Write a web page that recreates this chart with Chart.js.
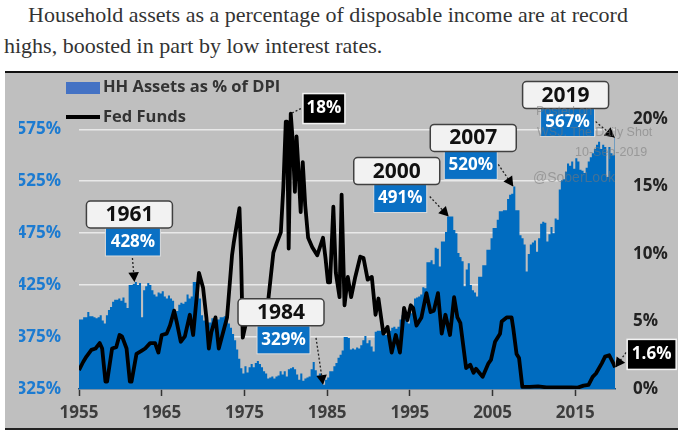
<!DOCTYPE html>
<html>
<head>
<meta charset="utf-8">
<script src="https://cdn.jsdelivr.net/npm/chart.js@4/dist/chart.umd.min.js"></script>
<style>
body { margin: 0; background: #fff; }
#intro { position: absolute; left: 4px; top: -1px; width: 640px; font: 22px/31px "Liberation Serif", serif; color: #333; text-indent: 24px; }
#panel { position: absolute; left: 5px; top: 71px; width: 673px; height: 355px; background: #bfbfbf; border-top: 2px solid #111; border-bottom: 2px solid #222; }
#grafica { position: absolute; left: 0; top: 0; }
</style>
</head>
<body>
<div id="intro">Household assets as a percentage of disposable income are at record highs, boosted in part by low interest rates.</div>
<div id="panel"></div>
<canvas id="grafica" width="685" height="435"></canvas>
<script>
// values
var assetYears = [1955,1955.5,1956,1956.25,1956.75,1957,1957.25,1957.5,1957.75,1958,1958.25,1958.5,1958.75,1959,1959.25,1959.75,1960,1960.25,1960.5,1960.75,1961,1961.5,1961.75,1962,1962.25,1962.5,1962.75,1963,1963.25,1963.5,1963.75,1964,1964.25,1964.5,1964.75,1965,1965.25,1965.5,1965.75,1966,1966.25,1966.5,1966.75,1967,1967.25,1967.5,1967.75,1968,1968.25,1968.5,1968.75,1969,1969.25,1969.5,1969.75,1970,1970.5,1971,1971.5,1972,1972.5,1973,1973.25,1973.5,1973.75,1974,1974.25,1974.5,1974.75,1975,1975.25,1975.5,1975.75,1976,1976.25,1976.5,1976.75,1977,1977.25,1977.5,1977.75,1978,1978.25,1978.5,1978.75,1979,1979.25,1979.5,1979.75,1980,1980.25,1980.5,1980.75,1981,1981.25,1981.5,1981.75,1982,1982.25,1982.5,1982.75,1983,1983.25,1983.5,1983.75,1984,1984.25,1984.5,1984.75,1985,1985.25,1985.5,1985.75,1986,1986.25,1986.5,1986.75,1987,1987.25,1987.5,1987.75,1988,1988.25,1988.5,1988.75,1989,1989.25,1989.5,1989.75,1990,1990.25,1990.5,1990.75,1991,1991.5,1991.75,1992,1992.25,1992.75,1993,1993.25,1993.5,1993.75,1994,1994.25,1994.5,1994.75,1995,1995.25,1995.5,1995.75,1996,1996.25,1996.5,1996.75,1997,1997.25,1997.5,1997.75,1998,1998.25,1998.5,1998.75,1999,1999.25,1999.5,2000.25,2000.5,2000.75,2001,2001.25,2001.5,2001.75,2002,2002.25,2002.5,2002.75,2003,2003.25,2003.75,2004.25,2004.75,2005,2005.5,2005.75,2006.25,2006.75,2007,2007.25,2007.5,2007.75,2008.25,2008.5,2008.75,2009,2009.25,2009.5,2009.75,2010,2010.25,2010.5,2010.75,2011,2011.25,2011.5,2011.75,2012,2012.25,2012.5,2012.75,2013,2013.25,2013.5,2013.75,2014,2014.25,2014.5,2014.75,2015,2015.25,2015.5,2015.75,2016,2016.25,2016.5,2016.75,2017,2017.25,2017.5,2017.75,2018,2018.25,2018.5,2018.75,2019,2019.25,2019.5,2019.75,2019.8];
var assetValues = [392,394,399,395,394,393,394,396,391,388,396,401,404,409,411,412,410,413,408,403,425,426,428,425,427,394,420,424,427,425,420,416,414,418,417,419,414,412,415,412,410,394,400,406,408,407,409,416,412,414,428,428,425,412,396,391,389,393,392,394,395,388,384,378,372,363,354,345,340,347,341,346,349,346,350,352,349,346,342,340,335,336,337,335,337,338,342,339,342,337,344,345,346,344,339,334,340,333,335,336,337,344,351,343,338,340,333,329,334,336,342,342,347,350,355,358,362,375,375,374,363,364,363,365,364,367,372,376,369,372,366,361,380,381,382,378,377,381,384,385,383,385,392,396,398,393,388,398,405,412,413,414,416,423,422,447,447,449,445,461,460,443,467,467,476,491,478,475,456,452,448,424,440,446,425,420,418,414,433,444,459,470,480,488,496,497,508,512,513,520,497,473,470,464,438,455,464,466,468,457,470,484,486,485,467,474,481,475,489,488,517,526,527,534,542,540,544,537,547,544,536,535,533,538,544,548,552,556,560,563,556,560,558,529,558,552,550,567,567];

var fedYears = [1955,1955.5,1955.9,1956.5,1957,1957.5,1957.8,1958.2,1958.4,1959,1959.5,1959.9,1960.2,1960.75,1961.15,1961.35,1961.95,1962.5,1963,1963.6,1964.2,1964.6,1965,1965.6,1966,1966.5,1966.8,1967.3,1967.8,1968.4,1968.8,1969.5,1970,1970.4,1970.7,1971,1971.5,1971.9,1972.9,1973.5,1973.7,1974.4,1974.6,1974.8,1975.3,1976.5,1977.5,1977.9,1978.5,1978.9,1979.4,1979.7,1980,1980.15,1980.35,1980.6,1980.8,1981.1,1981.3,1981.55,1981.8,1982.05,1982.35,1982.7,1983.2,1983.8,1984.5,1984.8,1985.1,1985.35,1985.75,1986.05,1986.5,1986.75,1987.1,1987.5,1987.9,1988.4,1989,1989.4,1989.9,1990.4,1990.85,1991.2,1991.8,1992.3,1992.8,1993.3,1993.8,1994.3,1994.7,1995.1,1995.4,1995.8,1996.4,1997,1997.5,1997.9,1998.4,1998.85,1999.3,1999.85,2000.35,2000.75,2001.1,2001.8,2002.3,2002.7,2003,2003.8,2004.5,2004.8,2005.3,2005.9,2006.1,2006.7,2007.3,2007.5,2007.9,2008.2,2008.6,2009.5,2010.5,2011.5,2013,2014.5,2015.3,2016,2016.6,2017.1,2017.5,2018.2,2018.6,2019.1,2019.6,2019.8];
var fedValues = [1.4,2,2.4,2.9,3,3.4,3,0.55,0.55,3,3.1,4,3.9,3,0.55,0.55,2.6,2.8,3,3.4,3.4,2.7,4,4.1,4.7,5.8,5,3.5,3.9,5.5,4,8.6,7.5,5.3,3,4.2,5.3,3,5.3,9.9,10.8,13.4,9.6,3.8,5.2,5,5.4,6.7,10.1,10.8,11.6,14.9,19.8,19.8,10.4,20.4,18.7,14.6,18.7,16.1,13.1,16.8,13.6,11.2,10.5,9.9,11.2,9.7,7.9,7.9,13.5,8.6,6.8,14.4,6.2,8.3,6.8,8.3,9.8,9.7,8.1,8.3,5.5,6.7,4.1,4.6,2.7,4,2.7,6,5.1,6.2,6,4.7,5.3,7.1,5.7,5.8,7.1,4.1,5.5,4,6.8,5.3,4.9,1.55,1.8,1.2,1.5,0.9,1.9,2.15,3.5,4.1,5,5.3,5.3,4.5,2.6,2.3,0.15,0.15,0.2,0.12,0.12,0.12,0.1,0.25,0.3,0.9,1.15,1.9,2.4,2.5,1.9,1.6];

var xTicks = [1955, 1965, 1975, 1985, 1995, 2005, 2015];
var assetTicks = [325, 375, 425, 475, 525, 575];
var fedTicks = [0, 5, 10, 15, 20];
var assetCalloutYears = [1961.7, 1984.5, 1999.7, 2007.5, 2019.75];
var assetCalloutValues = [428, 329, 491, 520, 567];
var assetCalloutLabels = ["1961", "1984", "2000", "2007", "2019"];
var fedCalloutYears = [1980.5, 2019.7];
var fedCalloutTips = [20.4, 1.6];
var fedCalloutLabels = ["18%", "1.6%"];

var fuente = '"Open Sans", sans-serif';

function zip(xs, ys) {
	return xs.map(function (x, i) { return { x: x, y: ys[i] }; });
}

function fijarTicks(lista) {
	return function (s) { s.ticks = lista.map(function (v) { return { value: v }; }); };
}

function flecha(c, x0, y0, x1, y1, head) {
	c.save();
	c.strokeStyle = "#222";
	c.fillStyle = "#000";
	c.lineWidth = 1.3;
	c.setLineDash([2, 2]);
	var a = Math.atan2(y1 - y0, x1 - x0);
	c.beginPath();
	c.moveTo(x0, y0);
	c.lineTo(x1, y1);
	c.stroke();
	c.setLineDash([]);
	c.beginPath();
	c.moveTo(x1, y1);
	c.lineTo(x1 - head * Math.cos(a - 0.5), y1 - head * Math.sin(a - 0.5));
	c.lineTo(x1 - head * Math.cos(a + 0.5), y1 - head * Math.sin(a + 0.5));
	c.fill();
	c.restore();
}

// box offsets from each tip, in pixels
var cajas = [
	{ wx: -48, wy: -81, bx: -29, bw: 55, fromX: -2, fromY: -24 },
	{ wx: -85, wy: -86, bx: -66, bw: 53, fromX: -7, fromY: -47 },
	{ wx: -95, wy: -59, bx: -75, bw: 53, fromX: -19, fromY: -20 },
	{ wx: -83, wy: -62, bx: -69, bw: 53, fromX: -15, fromY: -22 },
	{ wx: -92, wy: -56, bx: -74, bw: 54, fromX: -19, fromY: -16 },
];

var anotaciones = {
	id: "anotaciones",
	afterDatasetsDraw: function (chart) {
		var c = chart.ctx, x = chart.scales.x, y = chart.scales.y, y2 = chart.scales.y2;
		c.save();
		c.textBaseline = "middle";

		// legend
		c.textAlign = "left";
		c.fillStyle = "#4472c4";
		c.fillRect(66, 82, 34, 12);
		c.fillStyle = "#000";
		c.fillRect(66, 115, 34, 4);
		c.fillStyle = "#333";
		c.font = "bold 16.5px " + fuente;
		c.fillText(chart.data.datasets[0].label, 103, 87);
		c.fillText(chart.data.datasets[1].label, 103, 117);

		// asset callouts
		c.textAlign = "center";
		assetCalloutYears.forEach(function (yr, i) {
			var tx = x.getPixelForValue(yr), ty = y.getPixelForValue(assetCalloutValues[i]), k = cajas[i];
			var wy = ty + k.wy;
			flecha(c, tx + k.fromX, ty + k.fromY, tx, ty, 11);
			c.fillStyle = "#0a70c4";
			c.strokeStyle = "#dcdcdc";
			c.lineWidth = 1;
			c.fillRect(tx + k.bx, wy + 27, k.bw, 28);
			c.strokeRect(tx + k.bx, wy + 27, k.bw, 28);
			c.fillStyle = "#fff";
			c.font = "bold 17px " + fuente;
			c.fillText(assetCalloutValues[i] + "%", tx + k.bx + k.bw / 2, wy + 41);
			c.beginPath();
			c.roundRect(tx + k.wx, wy, 86, 27, 4);
			c.fillStyle = "#f2f2f2";
			c.fill();
			c.strokeStyle = "#404040";
			c.lineWidth = 1.5;
			c.stroke();
			c.fillStyle = "#111";
			c.font = "bold 21px " + fuente;
			c.fillText(assetCalloutLabels[i], tx + k.wx + 43, wy + 14);
		});

		// fed funds callouts
		var negras = [{ dx: 13, dy: -20, w: 42, h: 30, from: [11, -5], head: 0 }, { dx: 13, dy: -28, w: 49, h: 30, from: [12, -15], head: 11 }];
		fedCalloutYears.forEach(function (yr, i) {
			var tx = x.getPixelForValue(yr), ty = y2.getPixelForValue(fedCalloutTips[i]), k = negras[i];
			flecha(c, tx + k.from[0], ty + k.from[1], tx + 1, ty, k.head);
			c.fillStyle = "#000";
			c.strokeStyle = "#f4f4f4";
			c.lineWidth = 1.5;
			c.fillRect(tx + k.dx, ty + k.dy, k.w, k.h);
			c.strokeRect(tx + k.dx, ty + k.dy, k.w, k.h);
			c.fillStyle = "#fff";
			c.font = "bold 17px " + fuente;
			c.fillText(fedCalloutLabels[i], tx + k.dx + k.w / 2, ty + k.dy + k.h / 2);
		});

		// watermark
		c.textAlign = "left";
		c.fillStyle = "rgba(120,120,120,0.55)";
		c.font = "12.5px " + '"Liberation Sans", sans-serif';
		c.fillText("Posted on", 536, 112);
		c.fillText("WSJ. The Daily Shot", 537, 133);
		c.fillText("10-Sep-2019", 575, 153);
		c.font = "14px " + '"Liberation Sans", sans-serif';
		c.fillText("@SoberLook", 533, 178);
		c.restore();
	},
};

var grafica = new Chart(document.getElementById("grafica"), {
	type: "line",
	plugins: [anotaciones],
	data: {
		datasets: [
			{
				label: "HH Assets as % of DPI",
				data: zip(assetYears, assetValues),
				yAxisID: "y",
				stepped: true,
				fill: "start",
				backgroundColor: "#006cc0",
				borderWidth: 0,
				pointRadius: 0,
				order: 2,
			},
			{
				label: "Fed Funds",
				data: zip(fedYears, fedValues),
				yAxisID: "y2",
				borderColor: "#000",
				borderWidth: 3.8,
				borderJoinStyle: "round",
				pointRadius: 0,
				fill: false,
				order: 1,
			},
		],
	},
	options: {
		responsive: false,
		animation: false,
		devicePixelRatio: 1,
		layout: { padding: { left: 19, right: 5, top: 103.3, bottom: 0 } },
		plugins: { legend: { display: false }, tooltip: { enabled: false } },
		scales: {
			x: {
				type: "linear",
				min: 1955,
				max: 2019.8,
				afterBuildTicks: fijarTicks(xTicks),
				afterFit: function (s) { s.height = 46; },
				border: { color: "#1f4e79", width: 1.5 },
				grid: { drawOnChartArea: false, drawTicks: true, tickLength: 7, tickColor: "#333", tickWidth: 1.5 },
				ticks: {
					maxRotation: 0,
					autoSkip: false,
					padding: 7,
					color: "#3d3d3d",
					font: { family: fuente, size: 17, weight: "bold" },
					callback: function (v) { return String(v); },
				},
			},
			y: {
				position: "left",
				min: 325,
				max: 600,
				afterBuildTicks: fijarTicks(assetTicks),
				afterFit: function (s) { s.width = 60; },
				border: { display: false },
				grid: { color: "#e9e9e9", lineWidth: 1.5, drawTicks: false },
				ticks: {
					padding: 18,
					color: "#1c7bd1",
					font: { family: fuente, size: 17, weight: "bold" },
					callback: function (v) { return v + "%"; },
				},
			},
			y2: {
				position: "right",
				min: 0,
				max: 21.16,
				afterBuildTicks: fijarTicks(fedTicks),
				afterFit: function (s) { s.width = 65; },
				border: { display: false },
				grid: { drawOnChartArea: false, drawTicks: false },
				ticks: {
					padding: 18,
					color: "#222",
					font: { family: fuente, size: 17, weight: "bold" },
					callback: function (v) { return v + "%"; },
				},
			},
		},
	},
});
</script>
</body>
</html>
